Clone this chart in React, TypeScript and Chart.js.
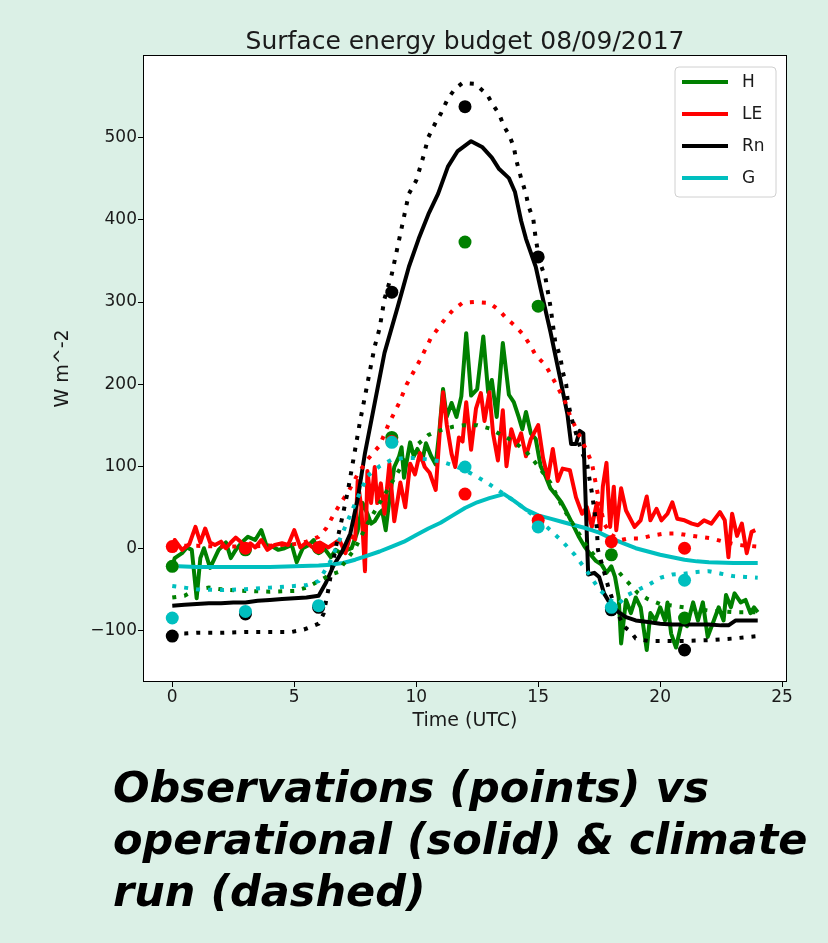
import React, { useEffect, useRef } from "react";
import { Chart, registerables } from "chart.js";

Chart.register(...registerables);

// ---------- data ----------
const TITLE = "Surface energy budget 08/09/2017";
const X_LABEL = "Time (UTC)";
const Y_LABEL = "W m^-2";
const X_TICKS = [0, 5, 10, 15, 20, 25];
const Y_TICKS = [-100, 0, 100, 200, 300, 400, 500];
const LEGEND_LABELS = ["H", "LE", "Rn", "G"];
const CAPTION = ["Observations (points) vs", "operational (solid) & climate", "run (dashed)"];

// observations
const OBS_T = [0, 3, 6, 9, 12, 15, 18, 21];
const H_OBS = [-22, -2, 0, 135, 373, 295, -8, -85];
const LE_OBS = [2, 0, 1, 130, 66, 34, 8, 0];
const RN_OBS = [-107, -80, -72, 312, 538, 355, -75, -124];
const G_OBS = [-85, -77, -70, 129, 99, 26, -72, -39];

// operational run (solid)
const H_OP_T = [0, 0.1, 0.4, 0.6, 0.8, 1.0, 1.15, 1.3, 1.55, 1.9, 2.2, 2.4, 2.6, 2.85, 3.1, 3.4, 3.65, 3.85, 4.1, 4.35, 4.6, 4.9, 5.1, 5.35, 5.6, 5.8, 6.0, 6.2, 6.5, 6.7, 6.9, 7.1, 7.35, 7.6, 7.8, 8.0, 8.15, 8.3, 8.5, 8.6, 8.75, 8.9, 9.1, 9.3, 9.4, 9.5, 9.6, 9.75, 9.9, 10.05, 10.25, 10.4, 10.6, 10.8, 10.95, 11.1, 11.25, 11.45, 11.65, 11.85, 12.05, 12.25, 12.5, 12.75, 12.95, 13.1, 13.3, 13.55, 13.8, 14.0, 14.2, 14.35, 14.5, 14.7, 14.9, 15.1, 15.3, 15.5, 15.75, 15.95, 16.15, 16.35, 16.65, 16.9, 17.15, 17.35, 17.6, 17.8, 18.0, 18.15, 18.3, 18.4, 18.6, 18.8, 19.0, 19.2, 19.45, 19.6, 19.8, 20.0, 20.2, 20.3, 20.45, 20.65, 20.9, 21.1, 21.35, 21.55, 21.75, 21.95, 22.2, 22.4, 22.6, 22.7, 22.9, 23.05, 23.3, 23.5, 23.7, 23.85, 24.0];
const H_OP_V = [-23, -12, -6, 1, -2, -61, -12, 0, -24, -2, 7, -12, -2, 7, 14, 10, 22, 4, 2, -2, 0, 4, -17, 0, 4, 10, -6, 1, -11, -2, -6, -3, 0, 21, 55, 42, 30, 33, 43, 46, 22, 59, 99, 112, 123, 86, 104, 129, 112, 121, 107, 128, 113, 102, 143, 194, 160, 177, 160, 185, 262, 186, 194, 258, 190, 205, 160, 250, 187, 178, 160, 145, 166, 140, 133, 100, 88, 73, 64, 56, 45, 33, 15, 2, -8, -15, -20, -30, -22, -35, -60, -116, -63, -79, -60, -72, -124, -79, -88, -72, -88, -66, -104, -121, -88, -95, -66, -88, -66, -108, -88, -72, -88, -57, -72, -55, -66, -63, -79, -72, -78];

const LE_OP_T = [0, 0.1, 0.4, 0.7, 0.95, 1.15, 1.35, 1.55, 1.75, 2.0, 2.2, 2.4, 2.6, 2.8, 3.0, 3.2, 3.4, 3.65, 3.9, 4.2, 4.5, 4.75, 5.0, 5.25, 5.5, 5.8, 6.05, 6.4, 6.7, 6.85, 7.1, 7.3, 7.5, 7.6, 7.75, 7.9, 8.0, 8.15, 8.3, 8.4, 8.55, 8.7, 8.9, 9.1, 9.35, 9.55, 9.75, 9.95, 10.15, 10.35, 10.55, 10.8, 11.0, 11.1, 11.25, 11.45, 11.6, 11.75, 11.9, 12.05, 12.25, 12.45, 12.65, 12.8, 13.0, 13.15, 13.35, 13.55, 13.7, 13.9, 14.1, 14.3, 14.5, 14.7, 15.0, 15.2, 15.4, 15.6, 15.8, 16.0, 16.3, 16.55, 16.8, 17.0, 17.2, 17.4, 17.55, 17.65, 17.8, 17.95, 18.1, 18.2, 18.4, 18.6, 18.95, 19.2, 19.45, 19.6, 19.85, 20.05, 20.3, 20.5, 20.7, 21.0, 21.3, 21.55, 21.8, 22.1, 22.45, 22.65, 22.8, 22.95, 23.15, 23.35, 23.55, 23.75, 23.9];
const LE_OP_V = [0, 10, -2, 5, 26, 7, 24, 7, 4, 8, 0, 7, 13, 8, 0, 6, 1, 10, -2, 4, 6, 4, 22, 1, 7, 0, 7, 1, 7, 10, -6, 16, 11, 82, 50, -28, 94, 55, 99, 55, 79, 42, 103, 33, 80, 50, 103, 90, 116, 99, 92, 71, 156, 190, 151, 115, 99, 135, 130, 178, 120, 170, 189, 155, 190, 140, 107, 168, 100, 145, 125, 140, 112, 133, 150, 110, 85, 121, 82, 97, 95, 62, 42, 50, 26, 55, 22, 75, 104, 26, 75, 22, 73, 46, 26, 34, 63, 34, 48, 34, 42, 56, 36, 34, 30, 28, 34, 30, 44, 34, -11, 42, 15, 30, -6, 20, 22];

const RN_OP_T = [0, 0.5, 1, 1.5, 2, 2.5, 3, 3.5, 4, 4.5, 5, 5.5, 6, 6.3, 6.6, 7.0, 7.3, 7.6, 7.9, 8.3, 8.7, 9.25, 9.7, 10.1, 10.5, 10.9, 11.3, 11.7, 12.25, 12.7, 13.1, 13.4, 13.8, 14.05, 14.3, 14.5, 14.9, 15.1, 15.5, 15.9, 16.2, 16.35, 16.55, 16.7, 16.85, 17.05, 17.3, 17.5, 17.7, 18.0, 18.3, 18.6, 19.0, 19.5, 20.0, 20.5, 21.0, 21.5, 22.0, 22.5, 22.8, 23.1, 23.5, 24.0];
const RN_OP_V = [-70, -69, -68, -67, -67, -66, -66, -64, -63, -62, -61, -60, -58, -42, -22, -2, 18, 60, 116, 177, 238, 295, 343, 377, 407, 432, 465, 484, 496, 489, 476, 462, 451, 434, 399, 377, 343, 316, 264, 207, 163, 127, 127, 143, 140, -32, -30, -35, -55, -70, -78, -84, -88, -90, -92, -93, -93, -93, -93, -94, -94, -88, -88, -88];

const G_OP_T = [0.25, 1, 2, 3, 4, 5, 6, 6.5, 7, 7.5, 8, 8.5, 9, 9.5, 10, 10.5, 11, 11.5, 12, 12.5, 13, 13.6, 14, 14.5, 15, 15.5, 16, 16.5, 17, 17.5, 18, 18.5, 19, 19.5, 20, 20.5, 21, 21.5, 22, 23, 24];
const G_OP_V = [-22, -23, -23, -23, -23, -22, -21, -20, -18, -14, -9, -4, 2, 8, 16, 24, 31, 40, 49, 56, 61, 66, 58, 47, 40, 36, 32, 28, 24, 19, 12, 6, 0, -4, -8, -11, -14, -16, -17, -18, -18];

// climate run (dotted)
const H_CL_T = [0, 0.5, 1, 1.5, 2, 3, 4, 5, 5.5, 6, 6.5, 6.8, 7, 7.5, 8, 8.5, 9, 9.5, 10, 10.5, 10.8, 11.5, 12, 12.5, 13, 13.5, 14, 14.5, 15, 15.5, 16, 16.5, 17, 17.7, 18.3, 18.6, 19.1, 19.5, 20, 21, 22, 23, 24];
const H_CL_V = [-60, -58, -50, -48, -50, -52, -53, -52, -48, -40, -32, -29, -20, 0, 30, 55, 80, 105, 125, 138, 142, 148, 150, 150, 146, 138, 130, 118, 100, 80, 50, 26, 2, -23, -29, -39, -55, -62, -68, -72, -76, -78, -78];

const LE_CL_T = [0, 1, 2, 3, 4, 5, 5.5, 6, 6.3, 6.6, 6.9, 7.2, 7.6, 8.0, 8.5, 8.85, 9.3, 9.6, 10.15, 10.6, 11.2, 11.5, 11.9, 12.4, 13.0, 13.4, 13.7, 14.05, 14.4, 14.7, 14.9, 15.3, 15.55, 15.8, 16.1, 16.3, 16.6, 17.0, 17.2, 17.45, 17.7, 18.0, 18.4, 18.7, 19.2, 19.6, 20.2, 20.7, 21.1, 21.6, 22.1, 22.6, 23.2, 23.6, 24];
const LE_CL_V = [3, 3, 2, 2, 3, 5, 8, 14, 24, 40, 55, 68, 90, 108, 125, 150, 177, 199, 229, 256, 280, 290, 299, 300, 299, 290, 280, 271, 260, 246, 235, 223, 210, 196, 179, 162, 143, 118, 104, 65, 30, 16, 10, 12, 12, 15, 18, 18, 16, 14, 12, 8, 4, 3, 2];

const RN_CL_T = [0, 0.5, 1, 2, 3, 4, 4.9, 5.4, 6.0, 6.2, 6.4, 6.6, 6.8, 7.0, 7.2, 7.5, 7.7, 7.9, 8.1, 8.3, 8.5, 8.7, 9.0, 9.2, 9.5, 9.7, 10.0, 10.3, 10.5, 10.8, 11.0, 11.3, 11.6, 11.9, 12.4, 12.9, 13.15, 13.4, 13.6, 13.8, 14.0, 14.1, 14.3, 14.5, 14.6, 14.8, 14.9, 15.0, 15.1, 15.3, 15.5, 15.6, 15.7, 15.9, 16.0, 16.15, 16.2, 16.35, 16.6, 16.8, 17.0, 17.1, 17.2, 17.4, 17.45, 17.6, 17.9, 18.2, 18.5, 18.8, 19.0, 19.5, 20, 21, 22, 23, 24];
const RN_CL_V = [-104, -104, -103, -103, -102, -102, -102, -99, -92, -80, -50, -15, 15, 42, 70, 121, 155, 185, 216, 246, 268, 304, 334, 362, 404, 432, 448, 478, 501, 519, 529, 548, 560, 567, 566, 553, 540, 529, 514, 504, 489, 473, 451, 432, 417, 401, 377, 360, 346, 329, 295, 273, 251, 234, 216, 199, 182, 160, 135, 116, 104, 85, 68, 26, -2, -18, -50, -75, -95, -102, -110, -113, -113, -113, -112, -110, -107];

const G_CL_T = [0, 0.5, 1, 2, 3, 4, 5, 5.5, 6, 6.5, 7, 7.5, 8, 8.5, 9, 9.5, 10, 10.5, 11, 11.5, 12, 12.5, 13, 13.5, 14, 14.5, 15, 15.5, 16, 16.5, 17, 17.5, 18, 18.3, 18.6, 19, 19.5, 20, 20.5, 21, 21.5, 22, 22.5, 23, 23.5, 24];
const G_CL_V = [-46, -48, -50, -51, -50, -48, -46, -45, -40, -15, 20, 55, 88, 100, 108, 110, 110, 108, 106, 101, 95, 87, 78, 68, 58, 47, 35, 22, 8, -8, -28, -50, -64, -68, -58, -52, -45, -36, -32, -31, -29, -28, -31, -34, -35, -36];

// ---------- styling ----------
const BG = "#dbf0e6";
const TEXT = "#1a1a1a";
const FONT = "DejaVu Sans";
const COLORS = ["#008000", "#ff0000", "#000000", "#00bfbf"];

const pts = (t: number[], v: number[]) => t.map((x, i) => ({ x, y: v[i] }));
const fmt = (v: number) => (v < 0 ? "\u2212" + Math.abs(v) : String(v));

const decor = {
  id: "decor",
  beforeDraw(chart: any) {
    const { ctx, chartArea: a, width, height } = chart;
    ctx.save();
    ctx.fillStyle = BG;
    ctx.fillRect(0, 0, width, height);
    ctx.fillStyle = "#ffffff";
    ctx.fillRect(a.left, a.top, a.right - a.left, a.bottom - a.top);
    ctx.restore();
  },
  afterDraw(chart: any) {
    const { ctx, chartArea: a } = chart;
    ctx.save();
    ctx.strokeStyle = "#000";
    ctx.lineWidth = 1;
    ctx.strokeRect(a.left + 0.5, a.top + 0.5, a.right - a.left - 1, a.bottom - a.top - 1);

    ctx.fillStyle = TEXT;
    ctx.font = `25px "${FONT}"`;
    ctx.textAlign = "center";
    ctx.textBaseline = "alphabetic";
    ctx.fillText(TITLE, (a.left + a.right) / 2, a.top - 6);

    // legend
    const bw = 101, bh = 130;
    const bx = a.right - 11 - bw, by = a.top + 12;
    ctx.beginPath();
    const r = 4;
    ctx.moveTo(bx + r, by);
    ctx.arcTo(bx + bw, by, bx + bw, by + bh, r);
    ctx.arcTo(bx + bw, by + bh, bx, by + bh, r);
    ctx.arcTo(bx, by + bh, bx, by, r);
    ctx.arcTo(bx, by, bx + bw, by, r);
    ctx.closePath();
    ctx.fillStyle = "rgba(255,255,255,0.85)";
    ctx.fill();
    ctx.strokeStyle = "#d0d0d0";
    ctx.lineWidth = 1;
    ctx.stroke();
    ctx.font = `17px "${FONT}"`;
    ctx.textAlign = "left";
    ctx.textBaseline = "middle";
    LEGEND_LABELS.forEach((lab, i) => {
      const y = by + 15 + i * 32;
      ctx.strokeStyle = COLORS[i];
      ctx.lineWidth = 4;
      ctx.beginPath();
      ctx.moveTo(bx + 7, y);
      ctx.lineTo(bx + 53, y);
      ctx.stroke();
      ctx.fillStyle = TEXT;
      ctx.fillText(lab, bx + 67, y + 1);
    });
    ctx.restore();
  },
};

export default function App() {
  const ref = useRef<HTMLCanvasElement | null>(null);

  useEffect(() => {
    if (!ref.current) return;
    const solid = [
      pts(H_OP_T, H_OP_V),
      pts(LE_OP_T, LE_OP_V),
      pts(RN_OP_T, RN_OP_V),
      pts(G_OP_T, G_OP_V),
    ];
    const dotted = [
      pts(H_CL_T, H_CL_V),
      pts(LE_CL_T, LE_CL_V),
      pts(RN_CL_T, RN_CL_V),
      pts(G_CL_T, G_CL_V),
    ];
    const obs = [H_OBS, LE_OBS, RN_OBS, G_OBS].map((v) => pts(OBS_T, v));

    const datasets: any[] = [];
    let drawIdx = 0;
    solid.forEach((d, i) =>
      datasets.push({
        label: LEGEND_LABELS[i] + " operational",
        data: d,
        borderColor: COLORS[i],
        borderWidth: 4,
        pointRadius: 0,
        tension: 0,
        fill: false,
        borderJoinStyle: "round",
        order: 20 - drawIdx++,
      })
    );
    dotted.forEach((d, i) =>
      datasets.push({
        label: LEGEND_LABELS[i] + " climate",
        data: d,
        borderColor: COLORS[i],
        borderWidth: 4,
        borderDash: [4, 8],
        pointRadius: 0,
        tension: 0,
        fill: false,
        order: 20 - drawIdx++,
      })
    );
    obs.forEach((d, i) =>
      datasets.push({
        label: LEGEND_LABELS[i] + " obs",
        data: d,
        showLine: false,
        pointRadius: 6.5,
        pointBorderWidth: 0,
        pointBackgroundColor: COLORS[i],
        borderColor: COLORS[i],
        order: 20 - drawIdx++,
      })
    );

    const tickFont = { family: FONT, size: 17 };
    const titleFont = { family: FONT, size: 19 };
    const grid = {
      display: true,
      drawOnChartArea: false,
      drawTicks: true,
      tickLength: 5,
      tickColor: "#000",
      color: "#000",
      lineWidth: 1,
    };

    const chart = new Chart(ref.current, {
      type: "line",
      data: { datasets },
      plugins: [decor],
      options: {
        animation: false,
        responsive: false,
        devicePixelRatio: 1,
        layout: { padding: { left: 52, right: 41, top: 55, bottom: 211 } },
        plugins: {
          legend: { display: false },
          title: { display: false },
          tooltip: { enabled: false },
        },
        scales: {
          x: {
            type: "linear",
            min: -1.2,
            max: 25.2,
            afterBuildTicks: (s: any) => {
              s.ticks = X_TICKS.map((v) => ({ value: v }));
            },
            afterFit: (s: any) => {
              s.height = 50;
            },
            ticks: {
              font: tickFont,
              color: TEXT,
              padding: 0,
              maxRotation: 0,
              autoSkip: false,
              callback: (v: any) => fmt(Number(v)),
            },
            grid,
            border: { display: false },
            title: { display: true, text: X_LABEL, font: titleFont, color: TEXT, padding: 0 },
          },
          y: {
            type: "linear",
            min: -163,
            max: 601,
            afterBuildTicks: (s: any) => {
              s.ticks = Y_TICKS.map((v) => ({ value: v }));
            },
            afterFit: (s: any) => {
              s.width = 91;
            },
            ticks: {
              font: tickFont,
              color: TEXT,
              padding: 1,
              autoSkip: false,
              callback: (v: any) => fmt(Number(v)),
            },
            grid,
            border: { display: false },
            title: { display: true, text: Y_LABEL, font: titleFont, color: TEXT, padding: 0 },
          },
        },
      } as any,
    });
    return () => chart.destroy();
  }, []);

  return (
    <div style={{ position: "absolute", left: 0, top: 0, width: 828, height: 943, background: BG, overflow: "hidden" }}>
      <canvas ref={ref} width={828} height={943} style={{ position: "absolute", left: 0, top: 0, width: 828, height: 943 }} />
      <div
        style={{
          position: "absolute",
          left: 113,
          top: 761,
          font: `italic bold 43px "${FONT}"`,
          lineHeight: "52px",
          color: "#000",
          whiteSpace: "nowrap",
        }}
      >
        {CAPTION.map((l, i) => (
          <div key={i}>{l}</div>
        ))}
      </div>
    </div>
  );
}
